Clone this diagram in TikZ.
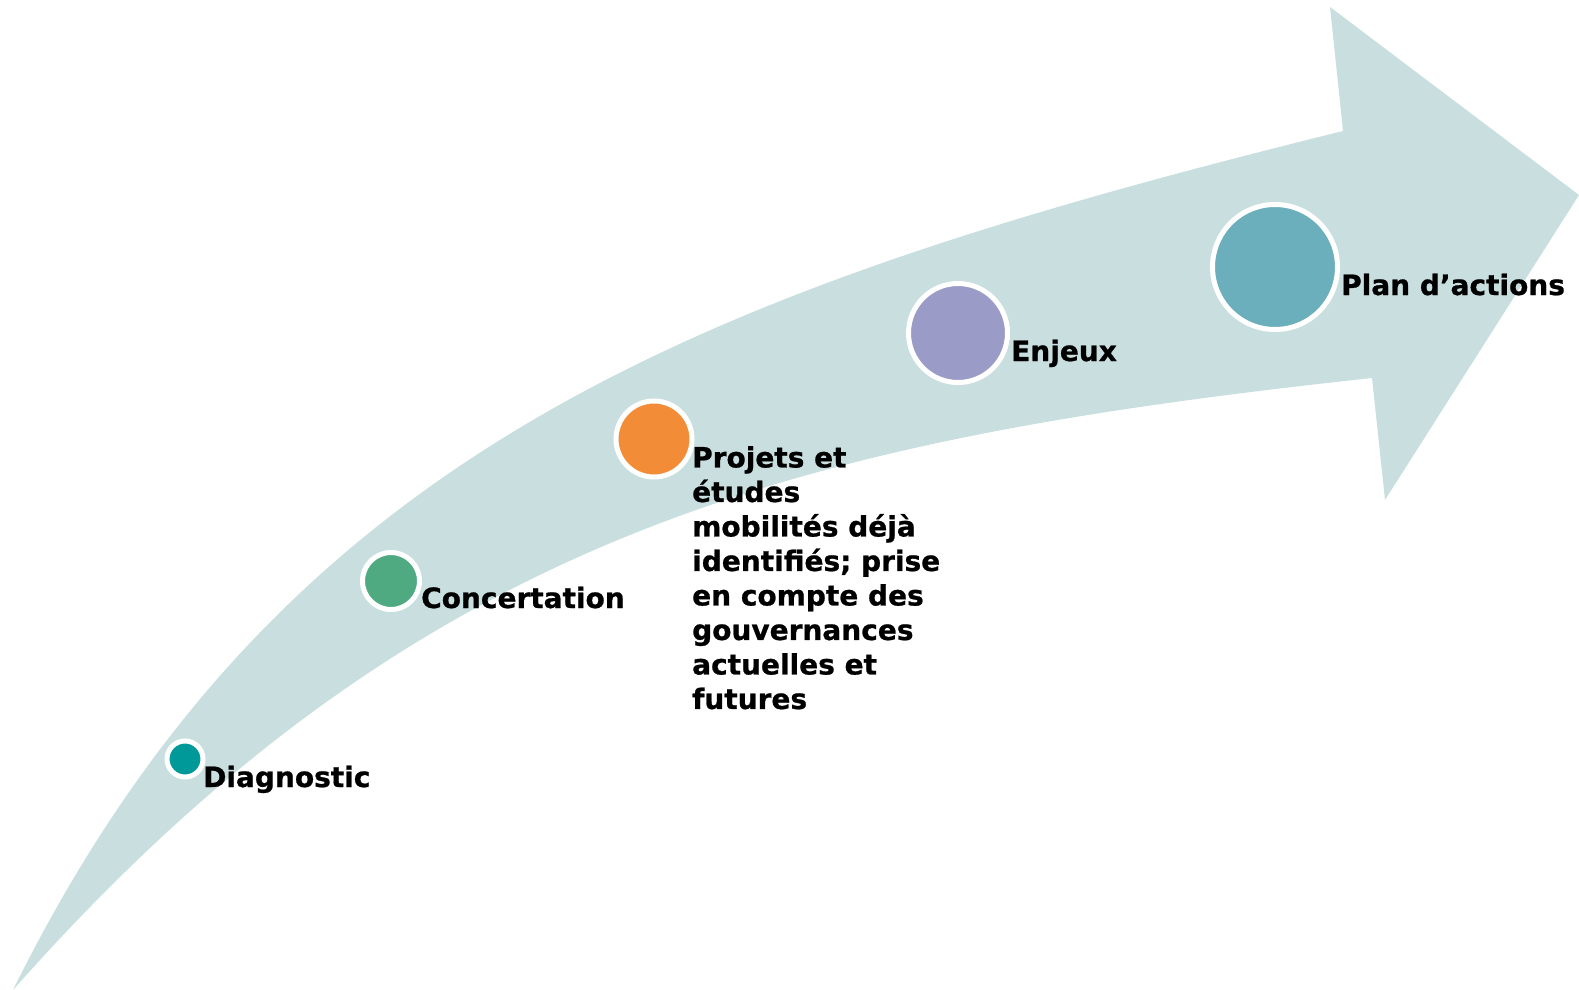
\documentclass[tikz,border=0pt]{standalone}
\usepackage{fontspec}
\setmainfont{DejaVu Sans}
\newfontfamily\stepfont{DejaVu Sans}[BoldFeatures={FakeBold=0.8}]
\usepackage{tikz}
\usetikzlibrary{calc}

\definecolor{bandfill}{RGB}{201,223,223}
\definecolor{diagcol}{RGB}{0,153,153}
\definecolor{conccol}{RGB}{79,170,130}
\definecolor{projcol}{RGB}{242,140,54}
\definecolor{enjcol}{RGB}{155,155,200}
\definecolor{plancol}{RGB}{107,175,188}

\begin{document}
\begin{tikzpicture}[x=1pt, y=-1pt]

  % ---------- Styling ----------
  \tikzset{
    band/.style={fill=bandfill},
    dot/.style={circle, draw=white, line width=5pt, inner sep=0pt},
    labelstyle/.style={font=\stepfont\fontsize{28}{34.5}\selectfont\bfseries, inner sep=0pt, anchor=base west}
  }

  \useasboundingbox (0,0) rectangle (1579,990);

  % ---------- Geometry: curved arrow ----------
  \coordinate (Tail) at (13,990);
  \coordinate (UpperNotch) at (1343,131);
  \coordinate (UpperBarb) at (1330,7);
  \coordinate (Tip) at (1579,195);
  \coordinate (LowerBarb) at (1385,500);
  \coordinate (LowerNotch) at (1372,378);

  \fill[band] (Tail) .. controls (280,450) and (700,290) .. (UpperNotch)
    -- (UpperBarb) -- (Tip) -- (LowerBarb) -- (LowerNotch)
    .. controls (800,440) and (420,530) .. (Tail) -- cycle;

  % ---------- Steps ----------
  \node[dot, fill=diagcol, minimum size=36pt] (diag) at (185,759) {};
  \node[dot, fill=conccol, minimum size=57pt] (conc) at (391,581) {};
  \node[dot, fill=projcol, minimum size=76pt] (proj) at (654,439) {};
  \node[dot, fill=enjcol, minimum size=99pt] (enj) at (958,333) {};
  \node[dot, fill=plancol, minimum size=125pt] (plan) at (1275,267) {};

  % ---------- Labels ----------
  \node[labelstyle] (ldiag) at (203,787) {Diagnostic};
  \node[labelstyle] (lconc) at (421,608) {Concertation};
  \node[labelstyle, anchor=north west, align=left] (lproj) at (692,446) {Projets et\\
    études\\
    mobilités déjà\\
    identifiés; prise\\
    en compte des\\
    gouvernances\\
    actuelles et\\
    futures};
  \node[labelstyle] (lenj) at (1011,361) {Enjeux};
  \node[labelstyle] (lplan) at (1341,295) {Plan d’actions};

\end{tikzpicture}
\end{document}
